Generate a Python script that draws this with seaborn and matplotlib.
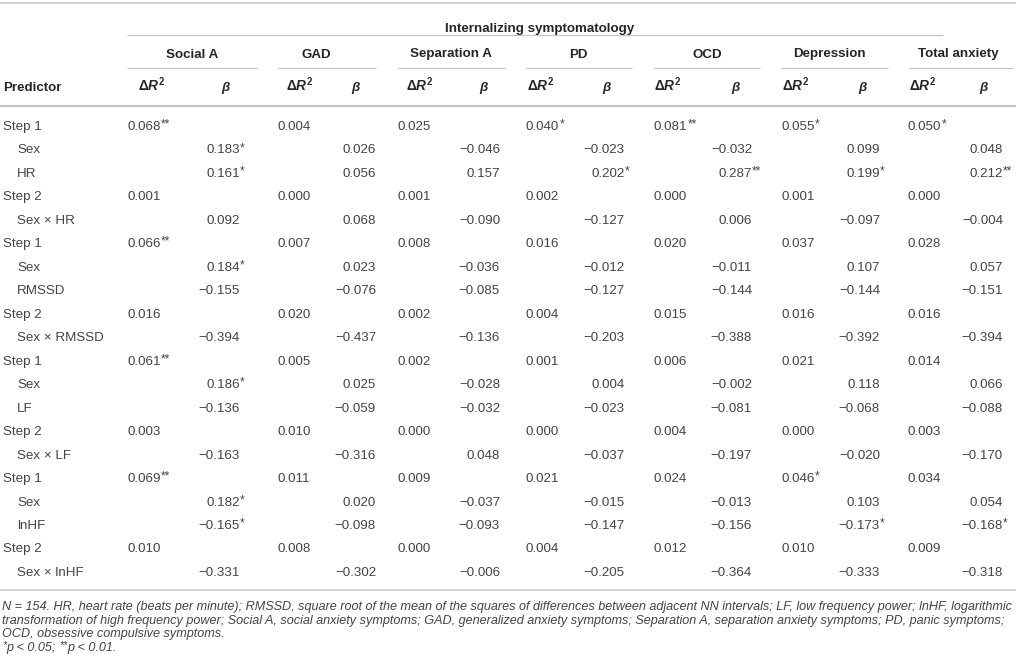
import numpy as np
import pandas as pd
import seaborn as sns
import matplotlib
matplotlib.use("Agg")
import matplotlib.pyplot as plt

# ---------------- data ----------------
title = "Internalizing symptomatology"
outcomes = ["Social A", "GAD", "Separation A", "PD", "OCD", "Depression", "Total anxiety"]
predictor_rows = ["Step 1", "Sex", "HR", "Step 2", "Sex \u00d7 HR",
                  "Step 1", "Sex", "RMSSD", "Step 2", "Sex \u00d7 RMSSD",
                  "Step 1", "Sex", "LF", "Step 2", "Sex \u00d7 LF",
                  "Step 1", "Sex", "lnHF", "Step 2", "Sex \u00d7 lnHF"]

# delta R^2 for each step (in order of the Step rows)
dr2_social = ["0.068**", "0.001", "0.066**", "0.016", "0.061**", "0.003", "0.069**", "0.010"]
dr2_gad = ["0.004", "0.000", "0.007", "0.020", "0.005", "0.010", "0.011", "0.008"]
dr2_sep = ["0.025", "0.001", "0.008", "0.002", "0.002", "0.000", "0.009", "0.000"]
dr2_pd = ["0.040*", "0.002", "0.016", "0.004", "0.001", "0.000", "0.021", "0.004"]
dr2_ocd = ["0.081**", "0.000", "0.020", "0.015", "0.006", "0.004", "0.024", "0.012"]
dr2_dep = ["0.055*", "0.001", "0.037", "0.016", "0.021", "0.000", "0.046*", "0.010"]
dr2_total = ["0.050*", "0.000", "0.028", "0.016", "0.014", "0.003", "0.034", "0.009"]

# beta for each predictor row (in order of the non-Step rows)
beta_social = ["0.183*", "0.161*", "0.092", "0.184*", "-0.155", "-0.394",
               "0.186*", "-0.136", "-0.163", "0.182*", "-0.165*", "-0.331"]
beta_gad = ["0.026", "0.056", "0.068", "0.023", "-0.076", "-0.437",
            "0.025", "-0.059", "-0.316", "0.020", "-0.098", "-0.302"]
beta_sep = ["-0.046", "0.157", "-0.090", "-0.036", "-0.085", "-0.136",
            "-0.028", "-0.032", "0.048", "-0.037", "-0.093", "-0.006"]
beta_pd = ["-0.023", "0.202*", "-0.127", "-0.012", "-0.127", "-0.203",
           "0.004", "-0.023", "-0.037", "-0.015", "-0.147", "-0.205"]
beta_ocd = ["-0.032", "0.287**", "0.006", "-0.011", "-0.144", "-0.388",
            "-0.002", "-0.081", "-0.197", "-0.013", "-0.156", "-0.364"]
beta_dep = ["0.099", "0.199*", "-0.097", "0.107", "-0.144", "-0.392",
            "0.118", "-0.068", "-0.020", "0.103", "-0.173*", "-0.333"]
beta_total = ["0.048", "0.212**", "-0.004", "0.057", "-0.151", "-0.394",
              "0.066", "-0.088", "-0.170", "0.054", "-0.168*", "-0.318"]

dr2_all = [dr2_social, dr2_gad, dr2_sep, dr2_pd, dr2_ocd, dr2_dep, dr2_total]
beta_all = [beta_social, beta_gad, beta_sep, beta_pd, beta_ocd, beta_dep, beta_total]

footnote_lines = [
    "N = 154. HR, heart rate (beats per minute); RMSSD, square root of the mean of the squares of differences between adjacent NN intervals; LF, low frequency power; lnHF, logarithmic",
    "transformation of high frequency power; Social A, social anxiety symptoms; GAD, generalized anxiety symptoms; Separation A, separation anxiety symptoms; PD, panic symptoms;",
    "OCD, obsessive compulsive symptoms.",
]
footnote_sig = ["*", "p < 0.05; ", "**", "p < 0.01."]

# build a long table
records = []
for oi, name in enumerate(outcomes):
    si = bi = 0
    for ri, pred in enumerate(predictor_rows):
        if pred.startswith("Step"):
            records.append((name, oi, ri, "dr2", dr2_all[oi][si])); si += 1
        else:
            records.append((name, oi, ri, "beta", beta_all[oi][bi])); bi += 1
table = pd.DataFrame(records, columns=["outcome", "oi", "row", "kind", "value"])

# ---------------- style ----------------
sns.set_theme(style="white")
plt.rcParams['font.family'] = ['Liberation Sans', 'DejaVu Sans']
plt.rcParams['mathtext.fontset'] = 'custom'
plt.rcParams['mathtext.rm'] = 'Liberation Sans:bold'
plt.rcParams['mathtext.it'] = 'Liberation Sans:italic:bold'
plt.rcParams['mathtext.bf'] = 'Liberation Sans:bold'

W, H = 1016, 668
fig = plt.figure(figsize=(W / 100, H / 100), dpi=100)
ax = fig.add_axes([0, 0, 1, 1])
ax.set_xlim(0, W)
ax.set_ylim(H, 0)
ax.axis('off')

BODY = '#444444'
HEAD = '#262626'
RULE = '#c4c4c4'
FS = 9.6
STAR_FS = 8.5

# layout
dr2_left = [127, 278, 398, 526, 654, 781, 908]
beta_right = [240, 376, 500, 625, 752, 880, 1003]
group_center = [192, 316, 451, 578, 707, 829, 958]
group_rule = [(127, 257), (278, 376), (398, 505), (526, 632), (654, 760), (781, 888), (909, 1013)]
dr2_head_left = [138, 286, 406, 527, 654, 782, 909]
beta_head_center = [225, 355, 483, 606, 735, 862, 983]
row_base0, row_step = 130, 23.47


def hline(y, x0, x1, lw):
    ax.hlines(y, x0, x1, color=RULE, lw=lw)


# rules
hline(3, 0, W, 1.1)
hline(35, 127, 943, 0.9)
for x0, x1 in group_rule:
    hline(68, x0, x1, 0.9)
hline(106, 0, W, 1.5)
hline(590, 0, W, 1.1)

# headers
ax.text(540, 32, title, ha='center', va='baseline', fontsize=FS, fontweight='bold', color=HEAD)
for i, name in enumerate(outcomes):
    ax.text(group_center[i], 57.5, name, ha='center', va='baseline', fontsize=FS,
            fontweight='bold', color=HEAD)
    ax.text(dr2_head_left[i], 90.5, r'$\Delta R^{2}$', ha='left', va='baseline',
            fontsize=FS + 0.3, color=HEAD)
    ax.text(beta_head_center[i], 90.5, '\u03b2', ha='center', va='baseline', fontsize=FS,
            fontweight='bold', fontstyle='italic', color=HEAD)
ax.text(3, 91, "Predictor", ha='left', va='baseline', fontsize=FS, fontweight='bold', color=HEAD)

# predictor labels
for ri, pred in enumerate(predictor_rows):
    yb = row_base0 + ri * row_step
    x = 3 if pred.startswith("Step") else 17
    ax.text(x, yb, pred, ha='left', va='baseline', fontsize=FS, color=BODY)


def num_text(x, yb, s, ha):
    num = s.rstrip('*')
    st = s[len(num):]
    t = ax.text(x, yb, num.replace('-', '\u2212'), ha=ha, va='baseline', fontsize=FS, color=BODY)
    if st:
        ax.annotate(st, xy=(1, yb - 2.5), xycoords=(t, 'data'), ha='left', va='baseline',
                    fontsize=STAR_FS, color=BODY)


for rec in table.itertuples():
    yb = row_base0 + rec.row * row_step
    if rec.kind == "dr2":
        num_text(dr2_left[rec.oi], yb, rec.value, 'left')
    else:
        num_text(beta_right[rec.oi], yb, rec.value, 'right')

# footnote (fit first line width)
renderer = fig.canvas.get_renderer()
fn_fs = 8.5
probe = ax.text(2, 610, footnote_lines[0], fontsize=fn_fs, fontstyle='italic')
w = probe.get_window_extent(renderer=renderer).width
probe.remove()
fn_fs = fn_fs * 1004 / w
fn_base = [610, 623.7, 637.4]
for yb, line in zip(fn_base, footnote_lines):
    ax.text(2, yb, line, ha='left', va='baseline', fontsize=fn_fs, fontstyle='italic', color=BODY)

yb = 651
prev = None
for piece in footnote_sig:
    is_star = set(piece) == {'*'}
    fs = STAR_FS * 0.9 if is_star else fn_fs
    y = yb - 2.5 if is_star else yb
    if prev is None:
        prev = ax.text(2, y, piece, ha='left', va='baseline', fontsize=fs, fontstyle='italic', color=BODY)
    else:
        prev = ax.annotate(piece, xy=(1, y), xycoords=(prev, 'data'), ha='left', va='baseline',
                           fontsize=fs, fontstyle='italic', color=BODY)

fig.savefig("out.png", dpi=100, facecolor='white')
